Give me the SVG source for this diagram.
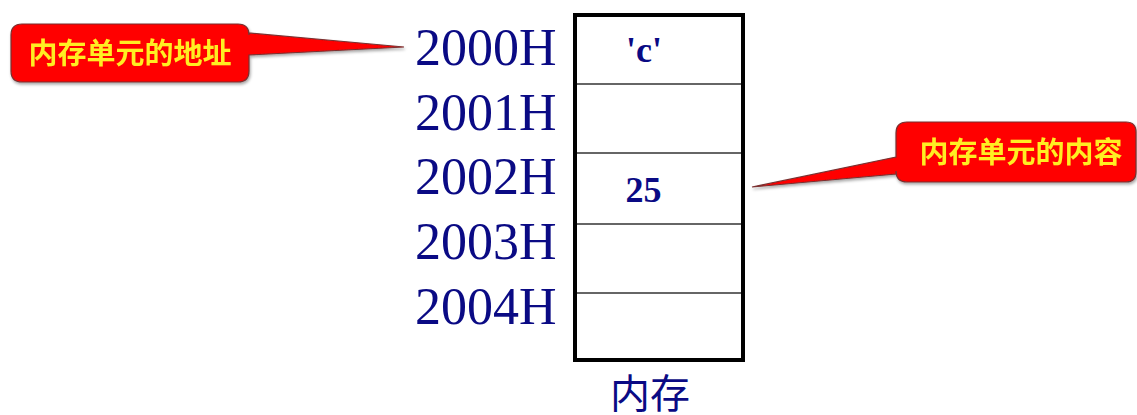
<svg xmlns="http://www.w3.org/2000/svg" width="1137" height="415" viewBox="0 0 1137 415">
  <defs>
    <style>
      .addr { font-family: "Liberation Serif", "Times New Roman", serif; font-size: 52px; fill: #0a0a84; }
      .val { font-family: "Liberation Serif", "Times New Roman", serif; font-size: 36px; font-weight: bold; fill: #0a0a84; }
      .cap { font-family: "Liberation Serif", "Noto Sans CJK SC", serif; font-size: 40px; fill: #0a0a84; }
      .note { font-family: "Noto Sans CJK SC", sans-serif; font-size: 29px; font-weight: bold; fill: #ffee22; }
      .callout { fill: #ff0000; stroke: #7a3030; stroke-width: 1.2; }
      .cell { fill: #ffffff; stroke: #000000; stroke-width: 4; }
      .divider { stroke: #333333; stroke-width: 1.5; }
    </style>
    <filter id="shadow" x="-10%" y="-20%" width="120%" height="150%">
      <feDropShadow dx="1" dy="2" stdDeviation="1.5" flood-color="#000000" flood-opacity="0.35"/>
    </filter>
  </defs>

  <rect width="1137" height="415" fill="#ffffff"/>

  <!-- memory block -->
  <g id="memory">
    <rect class="cell" x="575" y="15" width="168" height="345"/>
    <line class="divider" x1="577" y1="84" x2="741" y2="84"/>
    <line class="divider" x1="577" y1="153" x2="741" y2="153"/>
    <line class="divider" x1="577" y1="224" x2="741" y2="224"/>
    <line class="divider" x1="577" y1="293" x2="741" y2="293"/>
    <text class="val" x="644" y="62" text-anchor="middle">'c'</text>
    <text class="val" x="643.5" y="202" text-anchor="middle">25</text>
    <text class="cap" x="650" y="408" text-anchor="middle">内存</text>
  </g>

  <!-- addresses -->
  <g id="addresses">
    <text class="addr" x="415" y="65">2000H</text>
    <text class="addr" x="415" y="130">2001H</text>
    <text class="addr" x="415" y="194">2002H</text>
    <text class="addr" x="415" y="259">2003H</text>
    <text class="addr" x="415" y="324">2004H</text>
  </g>

  <!-- callout: address -->
  <g id="callout-address" filter="url(#shadow)">
    <path class="callout" d="M 22 24 H 238 Q 249 24 249 35 L 249 33 L 404 47 L 249 55 L 249 71 Q 249 82 238 82 H 22 Q 11 82 11 71 V 35 Q 11 24 22 24 Z"/>
    <text class="note" x="130" y="64" text-anchor="middle">内存单元的地址</text>
  </g>

  <!-- callout: content -->
  <g id="callout-content" filter="url(#shadow)">
    <path class="callout" d="M 907 122 H 1126 Q 1136 122 1136 132 V 172 Q 1136 182 1126 182 H 907 Q 896 182 896 171 V 174 L 752 187 L 896 157 V 133 Q 896 122 907 122 Z"/>
    <text class="note" x="1021" y="163" text-anchor="middle">内存单元的内容</text>
  </g>
</svg>
